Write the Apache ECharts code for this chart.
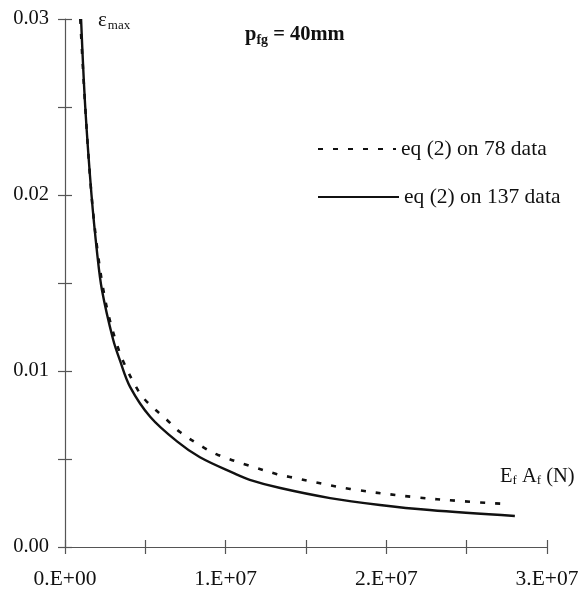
<!DOCTYPE html>
<html>
<head>
<meta charset="utf-8">
<script src="https://cdn.jsdelivr.net/npm/echarts@6/dist/echarts.min.js"></script>
<style>html,body{margin:0;padding:0;background:#fff}#c{width:583px;height:590px}</style>
</head>
<body>
<div id="c"></div>
<script>
// E_f A_f (N) and epsilon_max for each series
const x78 = [0.95e6, 1.26e6, 1.65e6, 2.0e6, 2.37e6, 2.74e6, 3.2e6, 3.67e6, 4.55e6, 5.1e6, 6.35e6, 7.16e6, 8.59e6, 9.53e6, 11.33e6, 13.2e6, 14.0e6, 17.75e6, 21.7e6, 24.6e6, 27.5e6];
const y78 = [0.0300, 0.0250, 0.0200, 0.0170, 0.0147, 0.01307, 0.0116, 0.01045, 0.0089, 0.00825, 0.00722, 0.00653, 0.00568, 0.00523, 0.00466, 0.00414, 0.00398, 0.0033, 0.00284, 0.00261, 0.00244];
const x137 = [1.0e6, 1.26e6, 1.65e6, 2.0e6, 2.3e6, 2.99e6, 3.42e6, 4.05e6, 5.3e6, 6.97e6, 8.4e6, 10.5e6, 11.5e6, 13.4e6, 16.5e6, 19.6e6, 22.7e6, 28.0e6];
const y137 = [0.0300, 0.0250, 0.0200, 0.0167, 0.0146, 0.0118, 0.0106, 0.0091, 0.0074, 0.0060, 0.0051, 0.0042, 0.00382, 0.00335, 0.00278, 0.00239, 0.0021, 0.00176];
const seriesNames = ['eq (2) on 78 data', 'eq (2) on 137 data'];
const xTickLabels = {0: '0.E+00', 10000000: '1.E+07', 20000000: '2.E+07', 30000000: '3.E+07'};
const yTickLabels = {'0.000': '0.00', '0.010': '0.01', '0.020': '0.02', '0.030': '0.03'};

const FONT = 'Liberation Serif';
const AX = '#555';
const chart = echarts.init(document.getElementById('c'));
const pair = (xs, ys) => xs.map((v, i) => [v, ys[i]]);

chart.setOption({
  animation: false,
  textStyle: {fontFamily: FONT},
  grid: {left: 65, top: 19, right: 36, bottom: 43},
  xAxis: [{
    type: 'value', min: 0, max: 3e7, interval: 5e6,
    splitLine: {show: false},
    axisLine: {lineStyle: {color: AX, width: 1.2}},
    axisTick: {length: 7, lineStyle: {color: AX, width: 1.2}},
    axisLabel: {color: '#111', fontSize: 21.5, fontFamily: FONT, margin: 21,
      formatter: v => xTickLabels[v] !== undefined ? xTickLabels[v] : ''}
  }, {
    type: 'value', min: 0, max: 3e7, interval: 5e6, position: 'bottom',
    splitLine: {show: false}, axisLine: {show: false},
    axisTick: {inside: true, length: 7, lineStyle: {color: AX, width: 1.2}},
    axisLabel: {show: false}
  }],
  yAxis: [{
    type: 'value', min: 0, max: 0.03, interval: 0.005,
    splitLine: {show: false},
    axisLine: {show: true, lineStyle: {color: AX, width: 1.2}},
    axisTick: {show: true, length: 7, lineStyle: {color: AX, width: 1.2}},
    axisLabel: {color: '#111', fontSize: 20.5, fontFamily: FONT, margin: 16,
      formatter: v => { const k = v.toFixed(3); return yTickLabels[k] !== undefined ? yTickLabels[k] : ''; }}
  }, {
    type: 'value', min: 0, max: 0.03, interval: 0.005, position: 'left',
    splitLine: {show: false}, axisLine: {show: false},
    axisTick: {show: true, inside: true, length: 7, lineStyle: {color: AX, width: 1.2}},
    axisLabel: {show: false}
  }],
  legend: [{
    data: [seriesNames[0]], left: 317, top: 138, padding: 0,
    itemWidth: 78, itemHeight: 20, itemGap: 2,
    itemStyle: {opacity: 0},
    textStyle: {fontFamily: FONT, fontSize: 21.5, color: '#111', padding: [9, 0, 0, 0]}
  }, {
    data: [seriesNames[1]], left: 317, top: 186, padding: 0,
    itemWidth: 81, itemHeight: 20, itemGap: 0,
    itemStyle: {opacity: 0},
    textStyle: {fontFamily: FONT, fontSize: 21.5, color: '#111', padding: [9, 0, 0, 0]}
  }],
  series: [{
    name: seriesNames[0], type: 'line', data: pair(x78, y78),
    smooth: 0.35, symbol: 'none', showSymbol: false,
    lineStyle: {color: '#111', width: 2.6, type: [5, 10]},
    itemStyle: {color: '#111'}, z: 3
  }, {
    name: seriesNames[1], type: 'line', data: pair(x137, y137),
    smooth: 0.35, symbol: 'none', showSymbol: false,
    lineStyle: {color: '#111', width: 2.4, type: 'solid'},
    itemStyle: {color: '#111'}, z: 4
  }],
  graphic: [{
    type: 'text', left: 98, top: 10,
    style: {
      text: '{a|ε}{b|max}',
      rich: {
        a: {fontFamily: FONT, fontSize: 21, fill: '#111'},
        b: {fontFamily: FONT, fontSize: 13, fill: '#111', padding: [10, 0, 0, 1]}
      }
    }
  }, {
    type: 'text', left: 245, top: 24,
    style: {
      text: '{a|p}{b|fg}{a| = 40mm}',
      rich: {
        a: {fontFamily: FONT, fontSize: 20.5, fontWeight: 'bold', fill: '#111'},
        b: {fontFamily: FONT, fontSize: 14, fontWeight: 'bold', fill: '#111', padding: [11, 0, 0, 0]}
      }
    }
  }, {
    type: 'text', left: 500, top: 466,
    style: {
      text: '{a|E}{b|f}{a| A}{b|f}{a| (N)}',
      rich: {
        a: {fontFamily: FONT, fontSize: 20.5, fill: '#111'},
        b: {fontFamily: FONT, fontSize: 13, fill: '#111', padding: [9, 0, 0, 0]}
      }
    }
  }]
});
</script>
</body>
</html>
